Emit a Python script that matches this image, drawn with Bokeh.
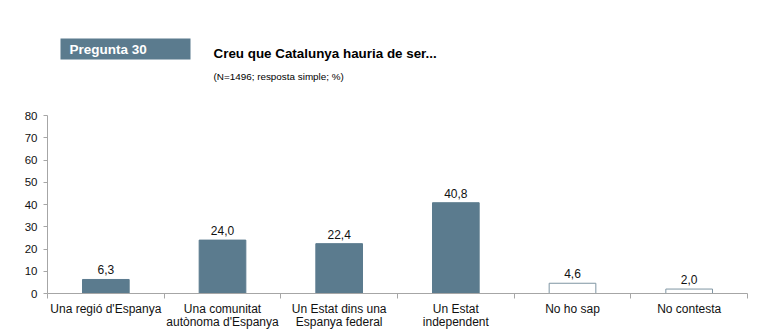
from bokeh.plotting import figure
from bokeh.layouts import column
from bokeh.models import ColumnDataSource, Range1d, FixedTicker, LabelSet
from bokeh.core.properties import value
from bokeh.embed import file_html
from bokeh.resources import INLINE

categories = ["Una regió d'Espanya", "Una comunitat\nautònoma d'Espanya",
              "Un Estat dins una\nEspanya federal", "Un Estat\nindependent",
              "No ho sap", "No contesta"]
values = [6.3, 24.0, 22.4, 40.8, 4.6, 2.0]
value_labels = ["6,3", "24,0", "22,4", "40,8", "4,6", "2,0"]
y_ticks = [0, 10, 20, 30, 40, 50, 60, 70, 80]

BLUE = "#5b7b8e"
FONT = "Liberation Sans"

# ---------- header (frame aligned with chart frame: pixels 47..747) ----------
h = figure(width=780, height=100, x_range=Range1d(47, 747), y_range=Range1d(100, 0),
           output_backend="svg", toolbar_location=None,
           min_border_left=47, min_border_right=33, min_border_top=0, min_border_bottom=0)
h.axis.visible = False
h.grid.visible = False
h.outline_line_color = None
h.quad(left=[60], right=[190], top=[38], bottom=[59], fill_color=BLUE, line_color=None)
h.text(x=[69], y=[48.5], text=["Pregunta 30"], text_font=value(FONT), text_font_style="bold",
       text_font_size="13.5px", text_color="white", text_baseline="middle")
h.text(x=[213], y=[52.5], text=["Creu que Catalunya hauria de ser..."], text_font=value(FONT),
       text_font_style="bold", text_font_size="13.4px", text_color="black", text_baseline="middle")
h.text(x=[213], y=[75.5], text=["(N=1496; resposta simple; %)"], text_font=value(FONT),
       text_font_size="9.9px", text_color="black", text_baseline="middle")

# ---------- chart ----------
n = len(categories)
xs = [i + 0.5 for i in range(n)]
fills = [BLUE, BLUE, BLUE, BLUE, "white", "white"]
lines = [BLUE, BLUE, BLUE, BLUE, "#7f95a3", "#7f95a3"]
src = ColumnDataSource(dict(x=xs, top=values, lab=value_labels, fill=fills, line=lines))

p = figure(width=780, height=231, x_range=Range1d(0, n), y_range=Range1d(0, 80),
           output_backend="svg", toolbar_location=None,
           min_border_left=47, min_border_right=33, min_border_top=15, min_border_bottom=38)
p.outline_line_color = None
p.grid.visible = False

p.vbar(x="x", top="top", bottom=0, width=0.4, source=src, fill_color="fill",
       line_color="line", line_width=1)
p.add_layout(LabelSet(x="x", y="top", text="lab", source=src, text_align="center",
                      text_baseline="bottom", y_offset=5, text_font=value(FONT),
                      text_font_size="12px", text_color="#111111"))

ax = p.xaxis[0]
ax.ticker = FixedTicker(ticks=xs, minor_ticks=list(range(n + 1)))
ax.major_label_overrides = {x: c for x, c in zip(xs, categories)}
ax.major_tick_line_color = None
ax.minor_tick_out = 5
ax.minor_tick_in = 0
ax.minor_tick_line_color = "#a6a6a6"
ax.axis_line_color = "#a6a6a6"
ax.major_label_standoff = 2
ax.major_label_text_font = FONT
ax.major_label_text_font_size = "12px"
ax.major_label_text_color = "#111111"
ax.major_label_text_line_height = 0.95

ay = p.yaxis[0]
ay.ticker = FixedTicker(ticks=y_ticks)
ay.bounds = (0, 80)
ay.axis_line_color = "#a6a6a6"
ay.major_tick_line_color = "#a6a6a6"
ay.major_tick_out = 4
ay.major_tick_in = 0
ay.minor_tick_line_color = None
ay.major_label_standoff = 6
ay.major_label_text_font = FONT
ay.major_label_text_font_size = "11.5px"
ay.major_label_text_color = "#111111"

layout = column(h, p, spacing=0)
open("out.html", "w").write(file_html(layout, INLINE))
